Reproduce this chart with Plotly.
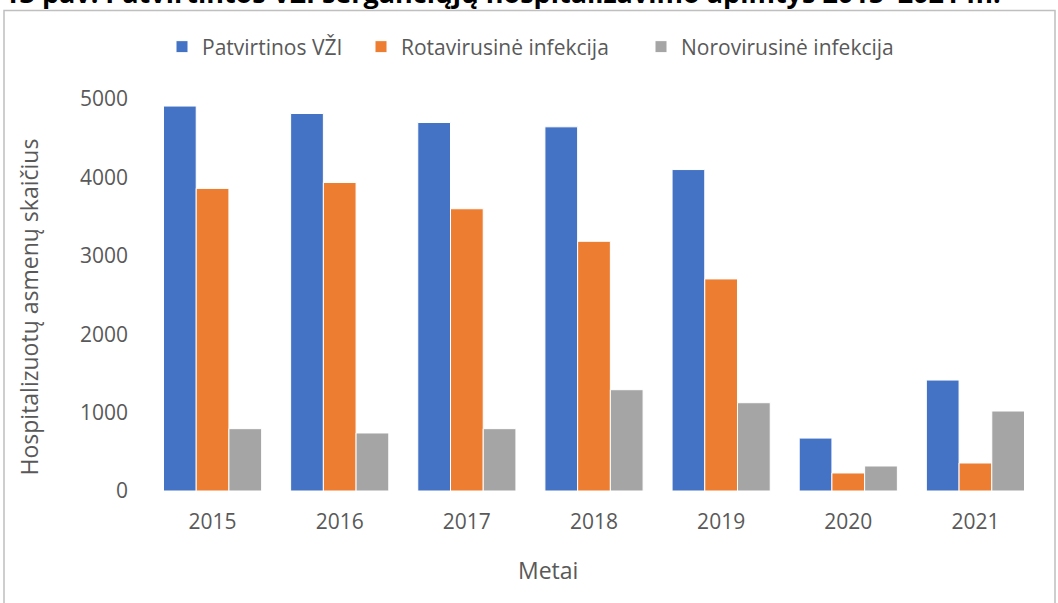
import plotly.graph_objects as go

years = ["2015", "2016", "2017", "2018", "2019", "2020", "2021"]
patvirtinos_vzi = [4910, 4815, 4700, 4645, 4100, 675, 1415]
rotavirusine = [3860, 3935, 3600, 3185, 2705, 230, 357]
norovirusine = [795, 740, 795, 1292, 1126, 319, 1020]

series_names = ["Patvirtinos VŽI", "Rotavirusinė infekcija", "Norovirusinė infekcija"]
colors = ["#4472C4", "#ED7D31", "#A5A5A5"]

x_title = "Metai"
y_title = "Hospitalizuotų asmenų skaičius"
chart_title = "13 pav. Patvirtintos VŽI sergančiųjų hospitalizavimo apimtys 2015–2021 m."

W, H = 1058, 603
ML, MR, MT, MB = 149, 19, 99, 112
PW, PH = W - ML - MR, H - MT - MB


def px_x(x):
    return (x - ML) / PW


def px_y(y):
    return (H - MB - y) / PH


FONT = "Open Sans"
TXT = "#595959"

# desired text start (px) of each legend entry
legend_text_x = [203, 402, 682]
legend_ids = ["legend", "legend2", "legend3"]

fig = go.Figure()
for name, vals, col, lid in zip(series_names, [patvirtinos_vzi, rotavirusine, norovirusine], colors, legend_ids):
    fig.add_trace(go.Bar(
        x=years, y=vals, name=name, legend=lid,
        marker=dict(color=col, line=dict(color="white", width=1)),
    ))

legend_common = dict(
    orientation="h", xanchor="left", yanchor="middle", y=px_y(47),
    font=dict(family=FONT, size=21, color=TXT), bgcolor="rgba(0,0,0,0)",
)
legends = {}
for lid, tx in zip(legend_ids, legend_text_x):
    legends[lid] = dict(legend_common, x=px_x(tx - 41))

fig.update_layout(
    width=W, height=H,
    margin=dict(l=ML, r=MR, t=MT, b=MB, autoexpand=False),
    paper_bgcolor="white", plot_bgcolor="white",
    barmode="group", bargap=0.228, bargroupgap=0,
    font=dict(family=FONT, color=TXT, size=21),
    showlegend=True,
    **legends,
    xaxis=dict(
        showgrid=False, showline=False, zeroline=False, ticks="",
        tickfont=dict(family=FONT, size=21, color=TXT),
        ticklabelstandoff=16,
        automargin=False,
    ),
    yaxis=dict(
        range=[0, 5000], dtick=1000, showgrid=False, showline=False, zeroline=False, ticks="",
        tickfont=dict(family=FONT, size=21, color=TXT),
        ticklabelstandoff=20,
        automargin=False,
    ),
    shapes=[dict(
        type="rect", xref="paper", yref="paper",
        x0=px_x(4), x1=px_x(1055), y0=px_y(620), y1=px_y(10.5),
        line=dict(color="#BFBFBF", width=1.5), fillcolor="rgba(0,0,0,0)", layer="below",
    )],
    annotations=[
        dict(
            text="<b>" + chart_title + "</b>",
            xref="paper", yref="paper", x=px_x(2), y=px_y(13), xanchor="left", yanchor="bottom",
            showarrow=False, font=dict(family=FONT, size=27, color="#000000"),
        ),
        dict(
            text=x_title, xref="paper", yref="paper", x=px_x(548), y=px_y(570),
            xanchor="center", yanchor="middle", showarrow=False,
            font=dict(family=FONT, size=23, color=TXT),
        ),
        dict(
            text=y_title, xref="paper", yref="paper", x=px_x(28), y=px_y(307.5),
            xanchor="center", yanchor="middle", showarrow=False, textangle=-90,
            font=dict(family=FONT, size=23, color=TXT),
        ),
    ],
)

fig.write_html(
    "out.html",
    config={"displayModeBar": False},
    post_script="document.body.style.margin='0';document.body.style.overflow='hidden';",
)
